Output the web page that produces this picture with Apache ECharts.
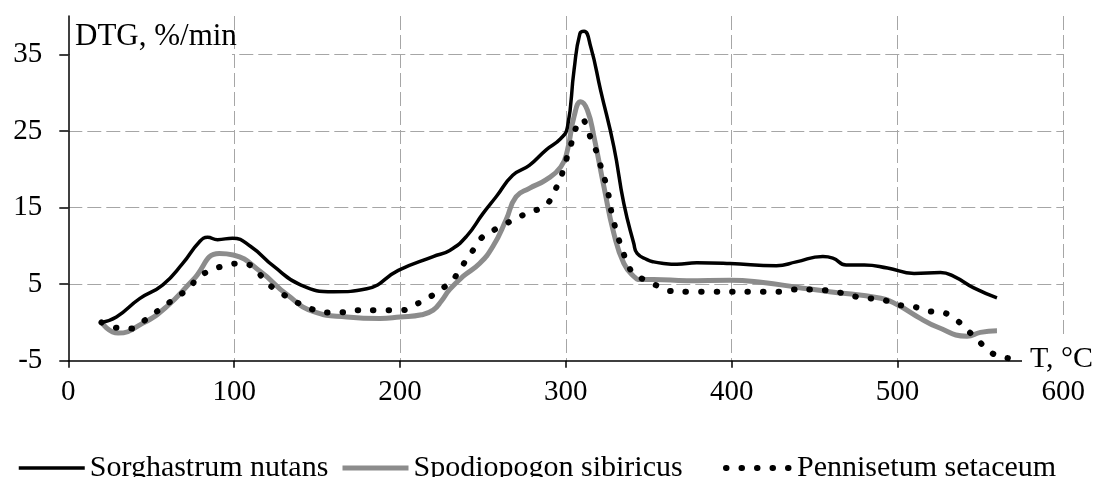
<!DOCTYPE html>
<html>
<head>
<meta charset="utf-8">
<title>DTG</title>
<script src="https://cdn.jsdelivr.net/npm/echarts@6/dist/echarts.min.js"></script>
<style>
  html, body { margin: 0; padding: 0; background: #fff; }
  #chart { width: 1096px; height: 477px; }
</style>
</head>
<body>
<div id="chart"></div>
<script>
// temperatures (°C) and DTG (%/min)
const sorghastrumT = [20, 29, 43, 57, 69, 79, 84, 90, 99, 110, 124, 140, 160, 180, 199, 220, 230, 240, 250, 258, 268, 278, 288, 297, 301, 305, 308.5, 311, 315, 321, 329, 335, 341, 343, 349, 353, 359, 367, 379, 399, 427, 439, 455, 461, 469, 480, 494, 510, 526, 534, 546, 560]
const sorghastrumDTG = [0, 0.7, 3.1, 4.9, 7.7, 10.5, 11.1, 10.8, 11.0, 9.9, 7.3, 4.9, 4.0, 4.4, 6.8, 8.6, 9.4, 11.2, 14.2, 16.4, 19.2, 20.5, 22.5, 24.0, 25.5, 33.0, 37.7, 38.0, 36.0, 30.3, 22.9, 15.5, 10.3, 9.0, 8.2, 7.9, 7.7, 7.6, 7.8, 7.7, 7.4, 7.9, 8.6, 8.4, 7.5, 7.5, 7.1, 6.4, 6.5, 6.0, 4.5, 3.2]

const spodiopogonT = [20, 30, 45, 59, 75, 91, 99.5, 116, 132, 148, 168, 188, 200, 213, 220, 225, 230, 238, 248, 256, 264, 270, 278, 288, 297, 301, 305, 309, 313, 317, 323, 329, 335, 341, 345, 353, 373, 399, 419, 439, 459, 490, 500, 514, 524, 542, 550, 560]
const spodiopogonDTG = [0, -1.4, -0.1, 2.0, 5.5, 9.0, 8.8, 6.6, 3.6, 1.4, 0.7, 0.5, 0.7, 1.0, 1.6, 2.8, 4.3, 6.0, 7.7, 9.9, 13.4, 16.4, 17.5, 18.6, 20.3, 22.5, 26.9, 28.8, 27.7, 24.2, 17.7, 11.6, 7.7, 6.0, 5.6, 5.6, 5.45, 5.5, 5.2, 4.6, 4.0, 3.15, 2.3, 0.5, -0.6, -1.8, -1.3, -1.1]

const pennisetumT = [20, 29, 38, 45, 52, 59, 66, 73, 78, 86, 94.5, 104, 111, 117, 123, 130, 138, 146, 155, 164, 173, 190, 201, 209, 217, 224, 231, 236, 240, 245, 249, 257, 264, 272, 280, 288, 292.5, 296, 298.5, 300.5, 303, 305, 308, 310, 312.5, 315.5, 318.5, 320.5, 323, 325, 327.7, 329.7, 331.7, 334.4, 336.8, 340.8, 347, 355, 363, 373, 429, 437, 447, 456, 465, 474, 483, 492, 500, 509, 518, 527, 535, 541, 547, 553, 560, 569, 573]
const pennisetumDTG = [0, -0.7, -0.8, 0.1, 1.2, 2.3, 3.4, 4.5, 5.8, 6.8, 7.4, 7.7, 7.3, 5.9, 4.6, 3.6, 2.6, 1.8, 1.3, 1.3, 1.6, 1.6, 1.6, 2.3, 3.2, 4.2, 5.4, 6.8, 8.2, 9.7, 11.0, 12.1, 12.9, 13.8, 14.5, 15.3, 16.9, 18.4, 19.9, 21.4, 23.1, 24.7, 26.2, 26.5, 25.5, 23.8, 22.3, 20.8, 19.0, 17.5, 14.2, 12.5, 11.0, 9.3, 7.9, 6.4, 5.6, 4.8, 4.1, 4.0, 4.0, 4.3, 4.3, 4.2, 3.9, 3.4, 3.15, 2.9, 2.3, 2.1, 1.5, 1.3, 0.4, -0.8, -2.0, -3.25, -4.35, -4.75, -4.95]

const xTicks = { min: 0, max: 600, step: 100 }
const yTicks = { min: -5, max: 40, step: 10 }

const seriesNames = ['Sorghastrum nutans', 'Spodiopogon sibiricus', 'Pennisetum setaceum']

const FONT = "'Liberation Serif', 'Times New Roman', serif"

const blackLine = { color: '#000', width: 3.5 }
const grayLine = { color: '#8c8c8c', width: 5 }
const dotLine = { color: '#000', width: 6, type: [0.5, 15], cap: 'round' }

function pairs (xs, ys) {
  return xs.map((x, i) => [x, ys[i]])
}

// one legend per item so each sits where it does in the original
function legendAt (left, name, lineStyle) {
  return {
    left: left,
    top: 448,
    data: [name],
    itemWidth: 66,
    itemHeight: 1, // keeps the legend's circle marker invisible
    itemGap: 0,
    selectedMode: false,
    lineStyle: lineStyle,
    textStyle: { fontFamily: FONT, fontSize: 30, color: '#000', lineHeight: 30 }
  }
}

function initChart () {
  const chart = echarts.init(document.getElementById('chart'))
  const gridLine = { color: '#a6a6a6', width: 1, type: [14, 5] }

  chart.setOption({
    animation: false,
    grid: { left: 68.3, right: 32.7, top: 16, bottom: 116.3 },
    xAxis: {
      type: 'value',
      min: xTicks.min,
      max: xTicks.max,
      interval: xTicks.step,
      z: 2,
      axisLine: { onZero: false, lineStyle: { color: '#000', width: 1.5 } },
      axisTick: { show: true, inside: false, length: 7, lineStyle: { color: '#000', width: 1.5 } },
      axisLabel: { fontFamily: FONT, fontSize: 29, color: '#000', margin: 17 },
      splitLine: { show: true, showMinLine: false, lineStyle: gridLine }
    },
    yAxis: {
      type: 'value',
      min: yTicks.min,
      max: yTicks.max,
      interval: yTicks.step,
      z: 0,
      axisLine: { show: true, onZero: false, lineStyle: { color: '#000', width: 1.5 } },
      axisTick: { show: true, inside: false, length: 9, lineStyle: { color: '#000', width: 1.5 } },
      axisLabel: { fontFamily: FONT, fontSize: 29, color: '#000', margin: 26, showMaxLabel: false },
      splitLine: { show: true, showMinLine: false, showMaxLine: false, lineStyle: gridLine }
    },
    legend: [
      legendAt(12, seriesNames[0], blackLine),
      legendAt(335, seriesNames[1], grayLine),
      legendAt(718, seriesNames[2], dotLine)
    ],
    graphic: [
      // white boxes behind the axis names, as in the original
      { type: 'rect', z: 1, shape: { x: 70, y: 18, width: 162, height: 40 }, style: { fill: '#fff' } },
      { type: 'text', z: 11, left: 75, top: 21, style: { text: 'DTG, %/min', font: '31px ' + FONT, fill: '#000' } },
      { type: 'rect', z: 10, shape: { x: 1022, y: 338, width: 74, height: 38 }, style: { fill: '#fff' } },
      { type: 'text', z: 11, left: 1030, top: 344, style: { text: 'T, °C', font: '30px ' + FONT, fill: '#000' } }
    ],
    series: [
      {
        name: seriesNames[0],
        type: 'line',
        z: 4,
        showSymbol: false,
        symbol: 'none',
        smooth: 0.5,
        color: '#000',
        lineStyle: blackLine,
        data: pairs(sorghastrumT, sorghastrumDTG)
      },
      {
        name: seriesNames[1],
        type: 'line',
        z: 3,
        showSymbol: false,
        symbol: 'none',
        smooth: 0.5,
        color: '#8c8c8c',
        lineStyle: grayLine,
        data: pairs(spodiopogonT, spodiopogonDTG)
      },
      {
        name: seriesNames[2],
        type: 'line',
        z: 5,
        showSymbol: false,
        symbol: 'none',
        smooth: 0.5,
        color: '#000',
        lineStyle: dotLine,
        data: pairs(pennisetumT, pennisetumDTG)
      }
    ]
  })
}

initChart()
</script>
</body>
</html>
